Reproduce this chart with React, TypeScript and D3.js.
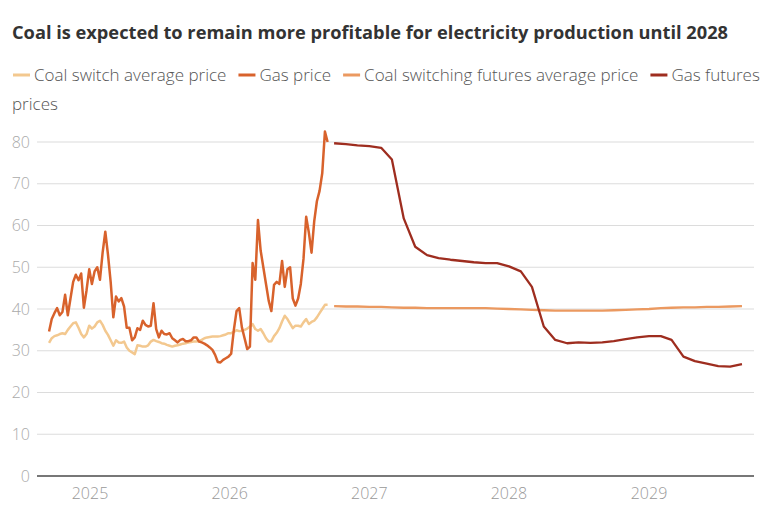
import React, { useEffect, useRef } from 'react';
import * as d3 from 'd3';

// Weekly history, starting mid-September 2024
const historyStart = '2024-09-16';
const gasPrice = [
  34.6, 37.6, 39.0, 40.2, 38.5, 39.3, 43.4, 38.5, 42.5, 46.5,
  48.2, 46.9, 48.5, 40.3, 44.5, 49.5, 46.0, 49.0, 50.0, 47.0,
  53.5, 58.5, 53.0, 46.5, 38.0, 43.0, 41.8, 42.6, 40.6, 35.5,
  35.5, 32.5, 33.2, 35.4, 35.0, 37.2, 36.2, 35.8, 36.0, 41.4,
  35.2, 33.2, 34.8, 34.0, 33.9, 34.2, 33.0, 32.5, 32.0, 32.6,
  32.8, 32.3, 32.3, 32.5, 33.2, 33.2, 32.2, 32.0, 31.7, 31.3,
  30.8, 30.2, 29.0, 27.3, 27.2, 27.8, 28.2, 28.6, 29.3, 35.0,
  39.5, 40.2, 35.6, 33.0, 30.4, 31.0, 51.0, 47.0, 61.3, 54.0,
  50.0, 46.0, 42.0, 39.5, 45.8, 46.5, 46.0, 51.5, 45.3, 49.5,
  50.0, 42.5, 40.8, 42.5, 46.0, 52.0, 62.1, 58.3, 53.5, 61.0,
  65.8, 68.3, 72.5, 82.5, 80.0,
];
const coalSwitch = [
  31.9, 33.0, 33.5, 33.7, 34.0, 34.2, 34.0, 35.0, 35.8, 36.6,
  36.8, 35.5, 34.0, 33.2, 34.0, 36.0, 35.3, 35.8, 36.8, 37.2,
  36.2, 34.8, 33.8, 32.5, 31.2, 32.5, 32.0, 31.9, 32.2, 30.8,
  30.0, 29.6, 29.2, 31.3, 31.2, 31.0, 31.0, 31.3, 32.2, 32.6,
  32.3, 32.1, 31.8, 31.7, 31.4, 31.2, 31.0, 31.2, 31.3, 31.5,
  31.7, 31.8, 32.0, 32.1, 32.2, 32.2, 32.3, 32.6, 33.0, 33.2,
  33.3, 33.4, 33.4, 33.4, 33.5, 33.7, 33.9, 34.2, 34.2, 34.5,
  34.9, 34.7, 34.8, 35.0, 35.3, 35.8, 36.4, 35.2, 34.8, 35.2,
  34.2, 33.0, 32.2, 32.3, 33.5, 34.3, 35.4, 37.0, 38.4, 37.6,
  36.5, 35.4, 36.0, 36.0, 35.8, 36.8, 37.6, 36.4, 36.9, 37.2,
  38.0, 39.0, 40.0, 41.0, 41.0,
];

// Monthly futures, October 2026 onwards
const futuresStart = '2026-10-01';
const gasFutures = [
  79.7, 79.5, 79.2, 79.0, 78.6, 75.8, 61.7, 54.9, 52.9, 52.2,
  51.8, 51.5, 51.2, 51.0, 51.0, 50.2, 49.0, 45.3, 35.8, 32.6,
  31.8, 32.0, 31.9, 32.0, 32.3, 32.8, 33.2, 33.5, 33.5, 32.6,
  28.6, 27.5, 26.9, 26.3, 26.2, 26.8,
];
const coalFutures = [
  40.7, 40.6, 40.6, 40.5, 40.5, 40.4, 40.3, 40.3, 40.2, 40.2,
  40.2, 40.2, 40.2, 40.2, 40.1, 40.0, 39.9, 39.8, 39.7, 39.6,
  39.6, 39.6, 39.6, 39.6, 39.7, 39.8, 39.9, 40.0, 40.2, 40.3,
  40.4, 40.4, 40.5, 40.5, 40.6, 40.7,
];

const yTicks = [0, 10, 20, 30, 40, 50, 60, 70, 80];
const xYears = [2025, 2026, 2027, 2028, 2029];

const seriesNames = [
  'Coal switch average price',
  'Gas price',
  'Coal switching futures average price',
  'Gas futures prices',
];
const seriesColors = ['#f3c88f', '#d8622c', '#eb9960', '#9e2d1f'];

const title = 'Coal is expected to remain more profitable for electricity production until 2028';

const W = 768;
const H = 511;
const font = '"Open Sans", Roboto, sans-serif';

export default function App() {
  const ref = useRef<SVGSVGElement>(null);

  useEffect(() => {
    document.body.style.margin = '0';
    if (!ref.current) return;
    const svg = d3.select(ref.current);
    svg.selectAll('*').remove();

    const x = d3
      .scaleUtc()
      .domain([new Date(Date.UTC(2025, 0, 1)), new Date(Date.UTC(2029, 0, 1))])
      .range([90, 649]);
    const y = d3.scaleLinear().domain([0, 80]).range([476, 142]);
    const left = 37;
    const right = 754;

    // Title
    svg
      .append('text')
      .attr('x', 12)
      .attr('y', 39)
      .attr('font-family', font)
      .attr('font-weight', 700)
      .attr('font-size', 17)
      .attr('fill', '#333')
      .attr('textLength', 716)
      .attr('lengthAdjust', 'spacingAndGlyphs')
      .text(title);

    // Legend with word wrapping
    const legend = svg
      .append('g')
      .attr('font-family', font)
      .attr('font-weight', 300)
      .attr('font-size', 17)
      .attr('fill', '#555');
    let lx = 13;
    let ly = 75;
    const measure = (s: string) => {
      const t = legend.append('text').text(s);
      const w = (t.node() as SVGTextElement).getComputedTextLength();
      t.remove();
      return w;
    };
    const space = measure('a b') - measure('ab');
    seriesNames.forEach((name, i) => {
      legend
        .append('line')
        .attr('x1', lx)
        .attr('x2', lx + 17)
        .attr('y1', ly)
        .attr('y2', ly)
        .attr('stroke', seriesColors[i])
        .attr('stroke-width', 3);
      lx += 21;
      const words = name.split(' ');
      words.forEach((word, j) => {
        const w = measure(word);
        if (lx + w > W - 1) {
          lx = 12;
          ly += 29;
        }
        legend.append('text').attr('x', lx).attr('y', ly).attr('dy', '0.35em').text(word);
        lx += w + (j < words.length - 1 ? space : 0);
      });
      lx += 12;
    });

    // Grid and y labels
    const grid = svg.append('g');
    yTicks.forEach((t) => {
      grid
        .append('line')
        .attr('x1', left)
        .attr('x2', right)
        .attr('y1', y(t))
        .attr('y2', y(t))
        .attr('stroke', t === 0 ? '#777' : '#dcdcdc')
        .attr('stroke-width', t === 0 ? 2 : 1.2);
      grid
        .append('text')
        .attr('x', 30)
        .attr('y', y(t))
        .attr('dy', '0.35em')
        .attr('text-anchor', 'end')
        .attr('font-family', font)
        .attr('font-weight', 300)
        .attr('font-size', 16)
        .attr('fill', '#aaa')
        .text(t);
    });

    // X labels
    xYears.forEach((yr) => {
      svg
        .append('text')
        .attr('x', x(new Date(Date.UTC(yr, 0, 1))))
        .attr('y', 493)
        .attr('dy', '0.35em')
        .attr('text-anchor', 'middle')
        .attr('font-family', font)
        .attr('font-weight', 300)
        .attr('font-size', 16)
        .attr('fill', '#999')
        .text(yr);
    });

    const hStart = new Date(historyStart + 'T00:00:00Z');
    const fStart = new Date(futuresStart + 'T00:00:00Z');
    const weekly = (vals: number[]) => vals.map((v, i) => ({ d: d3.utcWeek.offset(hStart, i), v }));
    const monthly = (vals: number[]) => vals.map((v, i) => ({ d: d3.utcMonth.offset(fStart, i), v }));

    const line = d3
      .line<{ d: Date; v: number }>()
      .x((p) => x(p.d))
      .y((p) => y(p.v));

    const series = [weekly(coalSwitch), weekly(gasPrice), monthly(coalFutures), monthly(gasFutures)];
    series.forEach((data, i) => {
      svg
        .append('path')
        .datum(data)
        .attr('d', line)
        .attr('fill', 'none')
        .attr('stroke', seriesColors[i])
        .attr('stroke-width', i < 2 ? 2.5 : 2.3)
        .attr('stroke-linejoin', 'round');
    });
  }, []);

  return <svg ref={ref} width={W} height={H} style={{ display: 'block', background: '#fff' }} />;
}
